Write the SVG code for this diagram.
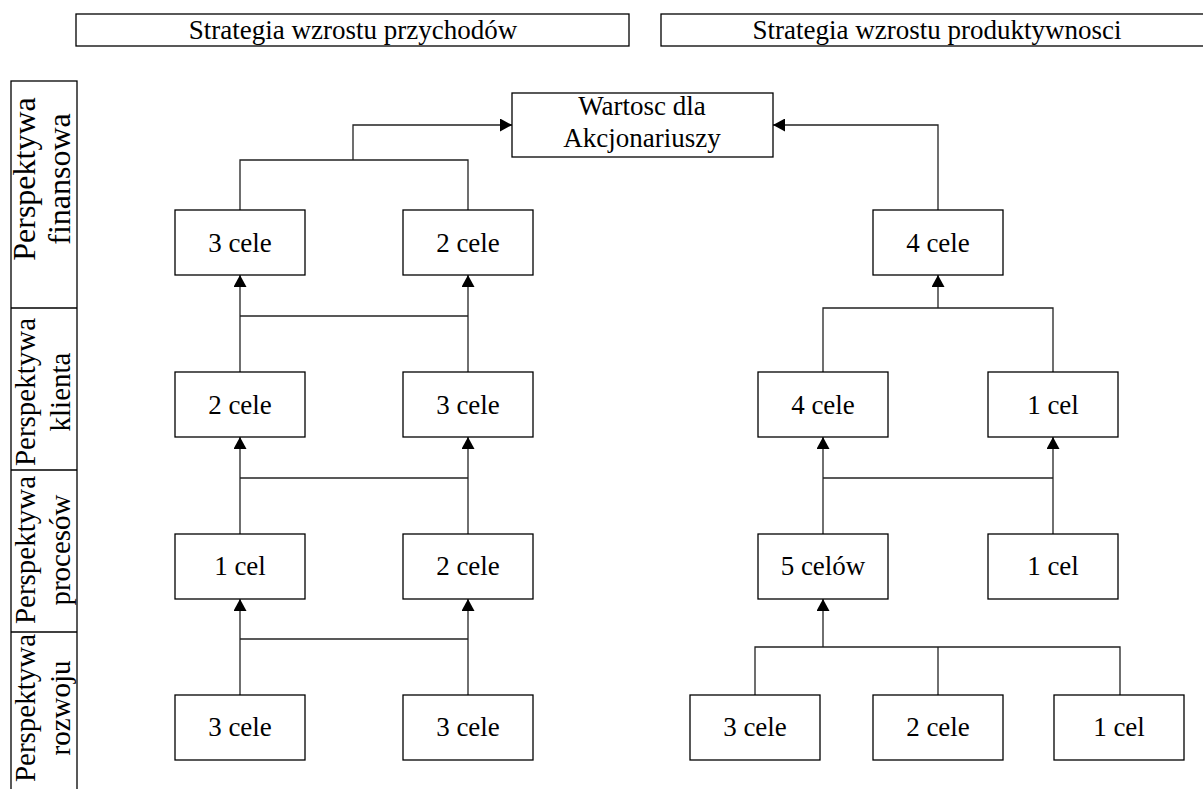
<svg xmlns="http://www.w3.org/2000/svg" width="1203" height="789" viewBox="0 0 1203 789">
<style>
.box{fill:#fff;stroke:#000;stroke-width:1.3}
.ln{stroke:#000;stroke-width:1.3}
.t{font-family:'Liberation Serif',serif;font-size:27px;fill:#000;text-anchor:middle}
.v{font-size:29px}
.v1{font-size:32px}
.c{fill:none;stroke:#222;stroke-width:1.3}
</style>
<defs>
<marker id="ah" viewBox="0 0 12 13" refX="12" refY="6.5" markerWidth="12" markerHeight="13" markerUnits="userSpaceOnUse" orient="auto">
<path d="M0,0 L12,6.5 L0,13 Z" fill="#000"/>
</marker>
</defs>
<rect width="1203" height="789" fill="#fff"/>
<g id="header-left"><rect class="box" x="76" y="14" width="553" height="32"/><text class="t" x="353" y="39">Strategia wzrostu przychodów</text></g>
<g id="header-right"><rect class="box" x="661" y="14" width="552" height="32"/><text class="t" x="937" y="39">Strategia wzrostu produktywnosci</text></g>

<g id="perspectives">
<rect class="box" x="11" y="81" width="66" height="720"/>
<line class="ln" x1="11" y1="308" x2="77" y2="308"/>
<line class="ln" x1="11" y1="470" x2="77" y2="470"/>
<line class="ln" x1="11" y1="632" x2="77" y2="632"/>
<text class="t v1" transform="translate(35,179) rotate(-90)">Perspektywa</text>
<text class="t v1" transform="translate(70,179) rotate(-90)">finansowa</text>
<text class="t v" transform="translate(35,392) rotate(-90)">Perspektywa</text>
<text class="t v" transform="translate(70,392) rotate(-90)">klienta</text>
<text class="t v" transform="translate(35,550) rotate(-90)">Perspektywa</text>
<text class="t v" transform="translate(70,550) rotate(-90)">procesów</text>
<text class="t v" transform="translate(35,708) rotate(-90)">Perspektywa</text>
<text class="t v" transform="translate(70,708) rotate(-90)">rozwoju</text>
</g>

<g id="connectors">
<path class="c" d="M240,210 V160 H468 V210"/>
<path class="c" d="M353,160 V125 H512" marker-end="url(#ah)"/>
<path class="c" d="M240,372 V275" marker-end="url(#ah)"/>
<path class="c" d="M468,372 V275" marker-end="url(#ah)"/>
<path class="c" d="M240,316 H468"/>
<path class="c" d="M240,534 V437" marker-end="url(#ah)"/>
<path class="c" d="M468,534 V437" marker-end="url(#ah)"/>
<path class="c" d="M240,478 H468"/>
<path class="c" d="M240,695 V599" marker-end="url(#ah)"/>
<path class="c" d="M468,695 V599" marker-end="url(#ah)"/>
<path class="c" d="M240,639 H468"/>
<path class="c" d="M938,210 V125 H773" marker-end="url(#ah)"/>
<path class="c" d="M823,372 V308 H1053 V372"/>
<path class="c" d="M938,308 V275" marker-end="url(#ah)"/>
<path class="c" d="M823,534 V437" marker-end="url(#ah)"/>
<path class="c" d="M1053,534 V437" marker-end="url(#ah)"/>
<path class="c" d="M823,478 H1053"/>
<path class="c" d="M755,695 V647 H1120 V695"/>
<path class="c" d="M938,647 V695"/>
<path class="c" d="M823,647 V599" marker-end="url(#ah)"/>
</g>

<g id="wartosc"><rect class="box" x="512" y="93" width="261" height="64"/><text class="t" x="642" y="115">Wartosc dla</text><text class="t" x="642" y="147">Akcjonariuszy</text></g>

<g id="lf1"><rect class="box" x="175" y="210" width="130" height="65"/><text class="t" x="240" y="252">3 cele</text></g>
<g id="lf2"><rect class="box" x="403" y="210" width="130" height="65"/><text class="t" x="468" y="252">2 cele</text></g>
<g id="lk1"><rect class="box" x="175" y="372" width="130" height="65"/><text class="t" x="240" y="414">2 cele</text></g>
<g id="lk2"><rect class="box" x="403" y="372" width="130" height="65"/><text class="t" x="468" y="414">3 cele</text></g>
<g id="lp1"><rect class="box" x="175" y="534" width="130" height="65"/><text class="t" x="240" y="575">1 cel</text></g>
<g id="lp2"><rect class="box" x="403" y="534" width="130" height="65"/><text class="t" x="468" y="575">2 cele</text></g>
<g id="lr1"><rect class="box" x="175" y="695" width="130" height="65"/><text class="t" x="240" y="736">3 cele</text></g>
<g id="lr2"><rect class="box" x="403" y="695" width="130" height="65"/><text class="t" x="468" y="736">3 cele</text></g>

<g id="rf1"><rect class="box" x="873" y="210" width="130" height="65"/><text class="t" x="938" y="252">4 cele</text></g>
<g id="rk1"><rect class="box" x="758" y="372" width="130" height="65"/><text class="t" x="823" y="414">4 cele</text></g>
<g id="rk2"><rect class="box" x="988" y="372" width="130" height="65"/><text class="t" x="1053" y="414">1 cel</text></g>
<g id="rp1"><rect class="box" x="758" y="534" width="130" height="65"/><text class="t" x="823" y="575">5 celów</text></g>
<g id="rp2"><rect class="box" x="988" y="534" width="130" height="65"/><text class="t" x="1053" y="575">1 cel</text></g>
<g id="rr1"><rect class="box" x="690" y="695" width="130" height="65"/><text class="t" x="755" y="736">3 cele</text></g>
<g id="rr2"><rect class="box" x="873" y="695" width="130" height="65"/><text class="t" x="938" y="736">2 cele</text></g>
<g id="rr3"><rect class="box" x="1054" y="695" width="130" height="65"/><text class="t" x="1119" y="736">1 cel</text></g>
</svg>
